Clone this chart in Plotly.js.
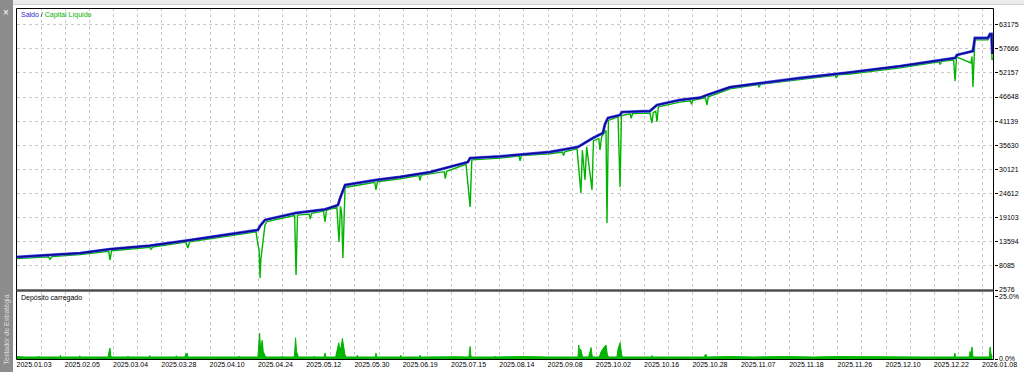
<!DOCTYPE html>
<html>
<head>
<meta charset="utf-8">
<script src="https://cdn.plot.ly/plotly-3.0.1.min.js"></script>
<style>html,body{margin:0;padding:0;background:#fff;}#chart{width:1024px;height:372px;}</style>
</head>
<body>
<div id="chart"></div>
<script>
// ---- Data (x = position along the tester's deal axis, in grid units) ----
const dateLabels = ["2025.01.03","2025.02.05","2025.03.04","2025.03.28","2025.04.10","2025.04.24","2025.05.12","2025.05.30","2025.06.19","2025.07.15","2025.08.14","2025.09.08","2025.10.02","2025.10.16","2025.10.28","2025.11.07","2025.11.18","2025.11.26","2025.12.10","2025.12.22","2026.01.08"];
const balanceTicks = [2576, 8085, 13594, 19103, 24612, 30121, 35630, 41139, 46648, 52157, 57666, 63175];
const loadTicks = [0, 25];
const loadTickText = ["0.0%", "25.0%"];

const balanceX = [0,1.37,2.61,3.85,5.51,7.08,8.41,9.98,10.07,10.27,11.56,12.76,13.30,13.38,13.59,14.87,15.87,17.11,18.68,18.77,20.01,22.08,23.24,23.86,24.27,24.36,24.48,24.98,25.06,26.22,26.51,27.46,28.29,28.58,29.54,32.44,34.51,36.58,38.86,38.94,39.60,39.68,40.22,40.31,40.37,40.40];
const balanceY = [10113,10500,11000,11900,12700,13900,15000,16280,17200,18564,20163,21000,21990,23500,26558,27700,28400,29500,31811,32725,33100,34095,35237,37293,38435,40500,41861,42546,43231,43460,44830,45972,46500,47100,48900,51000,52300,53700,55565,56250,57164,60133,60133,61046,61046,56500];

const equityX = [0,1.30,1.37,1.45,2.61,3.80,3.85,3.92,5.50,5.55,5.62,7.00,7.08,7.15,8.41,9.90,9.98,10.03,10.07,10.10,10.15,10.20,10.27,10.35,11.50,11.56,11.62,12.10,12.15,12.20,12.70,12.76,12.82,13.25,13.34,13.40,13.45,13.50,13.55,13.59,14.00,14.82,14.87,14.93,15.87,16.65,16.69,16.75,17.11,17.70,17.74,17.80,18.60,18.77,18.84,20.01,20.80,20.84,20.90,22.08,22.60,22.64,22.70,23.20,23.36,23.42,23.53,23.60,23.82,23.88,24.10,24.15,24.22,24.40,24.44,24.50,24.90,24.98,25.04,25.40,25.44,25.50,26.22,26.30,26.36,26.46,26.51,26.57,27.46,27.90,27.94,28.00,28.52,28.58,28.64,29.54,30.70,30.74,30.80,32.44,33.90,33.94,34.00,34.51,36.58,38.20,38.24,38.30,38.80,38.86,38.92,39.52,39.56,39.60,39.65,39.68,40.22,40.31,40.36,40.39,40.42];
const equityY = [9750,10150,9600,10200,10650,11400,9428,11550,12350,11900,12400,13500,12169,13600,14600,15850,13000,11712,5317,9500,11712,14500,17400,18200,19600,5999,19700,19900,18800,20100,20600,18107,20800,21500,13539,21700,20000,9885,22500,26000,26400,27200,25416,27300,28000,28700,27600,28800,29100,29600,28000,29700,31300,21533,32300,32700,33200,32100,33300,33700,34100,33300,34200,34800,24731,34500,27700,35300,25416,36700,37200,34552,37700,39000,17879,41300,42100,26101,42400,42800,41800,42900,43000,40719,43100,43400,40947,44400,45500,45800,45000,45900,46500,44830,46700,48500,49500,48900,49600,50600,51600,51000,51700,51900,53300,54700,54100,54800,55100,50312,55800,54422,55900,48941,57000,59700,59700,60600,60600,55108,55500];

const loadX = [0,0.3,0.88,0.9,0.92,1.78,1.8,1.82,2.58,2.6,2.62,3.78,3.8,3.85,3.88,3.92,4.58,4.6,4.62,5.48,5.5,5.52,6.58,6.6,6.62,6.95,6.98,7.05,7.08,7.78,7.8,7.82,9.18,9.2,9.22,9.98,10.0,10.05,10.09,10.12,10.16,10.2,10.25,10.3,10.98,11.0,11.02,11.48,11.5,11.54,11.58,11.62,11.66,12.28,12.3,12.32,12.72,12.76,12.8,13.2,13.24,13.28,13.33,13.38,13.43,13.48,13.53,13.58,13.62,14.08,14.1,14.12,14.85,14.87,14.9,15.88,15.9,15.92,16.68,16.7,16.72,17.5,18.2,18.72,18.74,18.77,18.8,18.83,19.78,19.8,19.82,21.0,22.0,23.0,23.24,23.27,23.31,23.35,23.39,23.43,23.68,23.72,23.78,23.82,23.86,24.12,24.2,24.3,24.4,24.45,24.5,24.85,24.9,24.98,25.02,25.06,25.1,26.28,26.3,26.32,28.48,28.5,28.55,28.58,29.5,30.5,31.8,33.0,34.0,35.5,36.5,37.5,38.82,38.85,38.88,39.44,39.48,39.52,39.56,39.6,39.64,39.68,40.28,40.31,40.35,40.4];
const loadY = [1.0,0.8,0.8,1.2,0.8,0.8,1.5,0.8,0.8,1.3,0.8,0.8,2.5,4.4,1.5,0.8,0.8,1.2,0.8,0.8,1.4,0.8,0.8,1.3,0.8,0.8,1.6,2.4,0.8,0.8,1.1,0.8,0.8,1.2,0.8,0.8,4.0,10.3,4.0,6.0,7.5,3.0,1.5,0.8,0.8,1.2,0.8,0.8,2.0,8.5,3.0,1.2,0.8,0.8,1.1,0.8,0.8,2.4,0.8,0.8,2.5,4.0,6.5,3.5,5.0,8.2,4.5,2.0,0.8,0.8,1.6,0.8,0.8,2.4,0.8,0.8,1.5,0.8,0.8,1.6,0.8,1.0,0.9,0.8,2.5,5.0,1.5,0.8,0.8,1.2,0.8,1.0,0.8,0.8,0.8,5.6,2.5,4.0,1.5,0.8,0.8,2.0,4.6,1.5,0.8,0.8,3.0,4.5,5.6,2.0,0.8,0.8,4.0,6.5,3.0,1.2,0.8,0.8,1.4,0.8,0.8,1.6,1.8,0.8,1.0,0.8,1.0,0.8,1.0,0.8,0.9,0.8,0.8,2.4,0.8,0.8,3.0,2.2,4.8,1.0,0.8,0.8,0.8,4.8,2.0,1.0];

// ---- Geometry helpers (pixels -> paper) ----
const W = 1024, H = 372;
const px = v => v / W;
const py = v => 1 - v / H;
const L = 17, R = 993.7, TOP = 8, SEP = 290, LTOP = 292, BOT = 359;
const xRange = [0, 40.46];

const gridTickVals = [];
const gridTickText = [];
for (let i = 0; i <= 40; i++) {
  gridTickVals.push(i);
  gridTickText.push(i % 2 === 0 ? dateLabels[i / 2] : "");
}

const FONT = "Liberation Sans, Arial, sans-serif";
const gridStyle = {showgrid: true, gridcolor: "#c8c8c8", griddash: "3px,3px", gridwidth: 1, zeroline: false};

const traces = [
  {x: equityX, y: equityY, xaxis: "x", yaxis: "y", type: "scatter", mode: "lines",
   line: {color: "#00b400", width: 1.4}, hoverinfo: "skip"},
  {x: balanceX, y: balanceY, xaxis: "x", yaxis: "y", type: "scatter", mode: "lines",
   line: {color: "#4a4af0", width: 2.8}, hoverinfo: "skip"},
  {x: balanceX, y: balanceY, xaxis: "x", yaxis: "y", type: "scatter", mode: "lines",
   line: {color: "#0a0a96", width: 1.7}, hoverinfo: "skip"},
  {x: loadX, y: loadY, xaxis: "x2", yaxis: "y2", type: "scatter", mode: "lines",
   fill: "tozeroy", fillcolor: "#00b400", line: {color: "#00b400", width: 1}, hoverinfo: "skip"}
];

const layout = {
  width: W, height: H,
  margin: {l: 0, r: 0, t: 0, b: 0},
  paper_bgcolor: "#ffffff", plot_bgcolor: "#ffffff",
  showlegend: false, hovermode: false,
  font: {family: FONT, size: 7, color: "#000"},
  xaxis: Object.assign({domain: [px(L), px(R)], range: xRange, anchor: "y",
    tickmode: "array", tickvals: gridTickVals, showticklabels: false, ticks: "", showline: false}, gridStyle),
  yaxis: Object.assign({domain: [py(SEP), py(TOP)], range: [2576, 66985], anchor: "x", side: "right",
    tickmode: "array", tickvals: balanceTicks, ticktext: balanceTicks.map(String),
    ticks: "outside", ticklen: 3, tickcolor: "#000", tickwidth: 1,
    tickfont: {family: FONT, size: 7, color: "#000"}, showline: false}, gridStyle),
  xaxis2: Object.assign({domain: [px(L), px(R)], range: xRange, anchor: "y2",
    tickmode: "array", tickvals: gridTickVals, ticktext: gridTickText,
    ticks: "", showticklabels: true, ticklabelshift: 17, ticklabelstandoff: 0,
    tickfont: {family: FONT, size: 7, color: "#000"}, showline: false}, gridStyle),
  yaxis2: {domain: [py(BOT), py(LTOP)], range: [0, 26.8], anchor: "x2", side: "right",
    tickmode: "array", tickvals: loadTicks, ticktext: loadTickText,
    ticks: "outside", ticklen: 3, tickcolor: "#000",
    tickfont: {family: FONT, size: 7, color: "#000"},
    showgrid: false, zeroline: false, showline: false},
  shapes: [
    {type: "rect", xref: "paper", yref: "paper", x0: 0, x1: px(13), y0: 0, y1: 1,
     fillcolor: "#8c8c8c", line: {width: 0}, layer: "below"},
    {type: "rect", xref: "paper", yref: "paper", x0: px(13), x1: 1, y0: py(4), y1: 1,
     fillcolor: "#ececec", line: {width: 0}, layer: "below"},
    {type: "line", xref: "paper", yref: "paper", x0: px(13), x1: 1, y0: py(4.5), y1: py(4.5),
     line: {color: "#d0d0d0", width: 1}},
    {type: "rect", xref: "paper", yref: "paper", x0: px(16.5), x1: px(993.5), y0: py(359.5), y1: py(8.5),
     line: {color: "#000", width: 1}, layer: "above"},
    {type: "line", xref: "paper", yref: "paper", x0: px(16.5), x1: px(993.5), y0: py(290.5), y1: py(290.5),
     line: {color: "#505050", width: 2.5}, layer: "above"}
  ],
  annotations: [
    {xref: "paper", yref: "paper", x: px(19), y: py(15), xanchor: "left", yanchor: "middle", showarrow: false,
     text: "<span style='color:#2a2ac8'>Saldo</span> / <span style='color:#00b400'>Capital Líquido</span>",
     font: {family: FONT, size: 7, color: "#000"}},
    {xref: "paper", yref: "paper", x: px(19), y: py(298), xanchor: "left", yanchor: "middle", showarrow: false,
     text: "Depósito carregado", font: {family: FONT, size: 7, color: "#000"}},
    {xref: "paper", yref: "paper", x: px(6), y: py(13), xanchor: "center", yanchor: "middle", showarrow: false,
     text: "×", font: {family: FONT, size: 10, color: "#ffffff"}},
    {xref: "paper", yref: "paper", x: px(6.5), y: py(330), xanchor: "center", yanchor: "middle", showarrow: false,
     textangle: -90, text: "Testador de Estratégia", font: {family: FONT, size: 7, color: "#dcdcdc"}}
  ]
};

Plotly.newPlot("chart", traces, layout, {staticPlot: true, displayModeBar: false});
</script>
</body>
</html>
